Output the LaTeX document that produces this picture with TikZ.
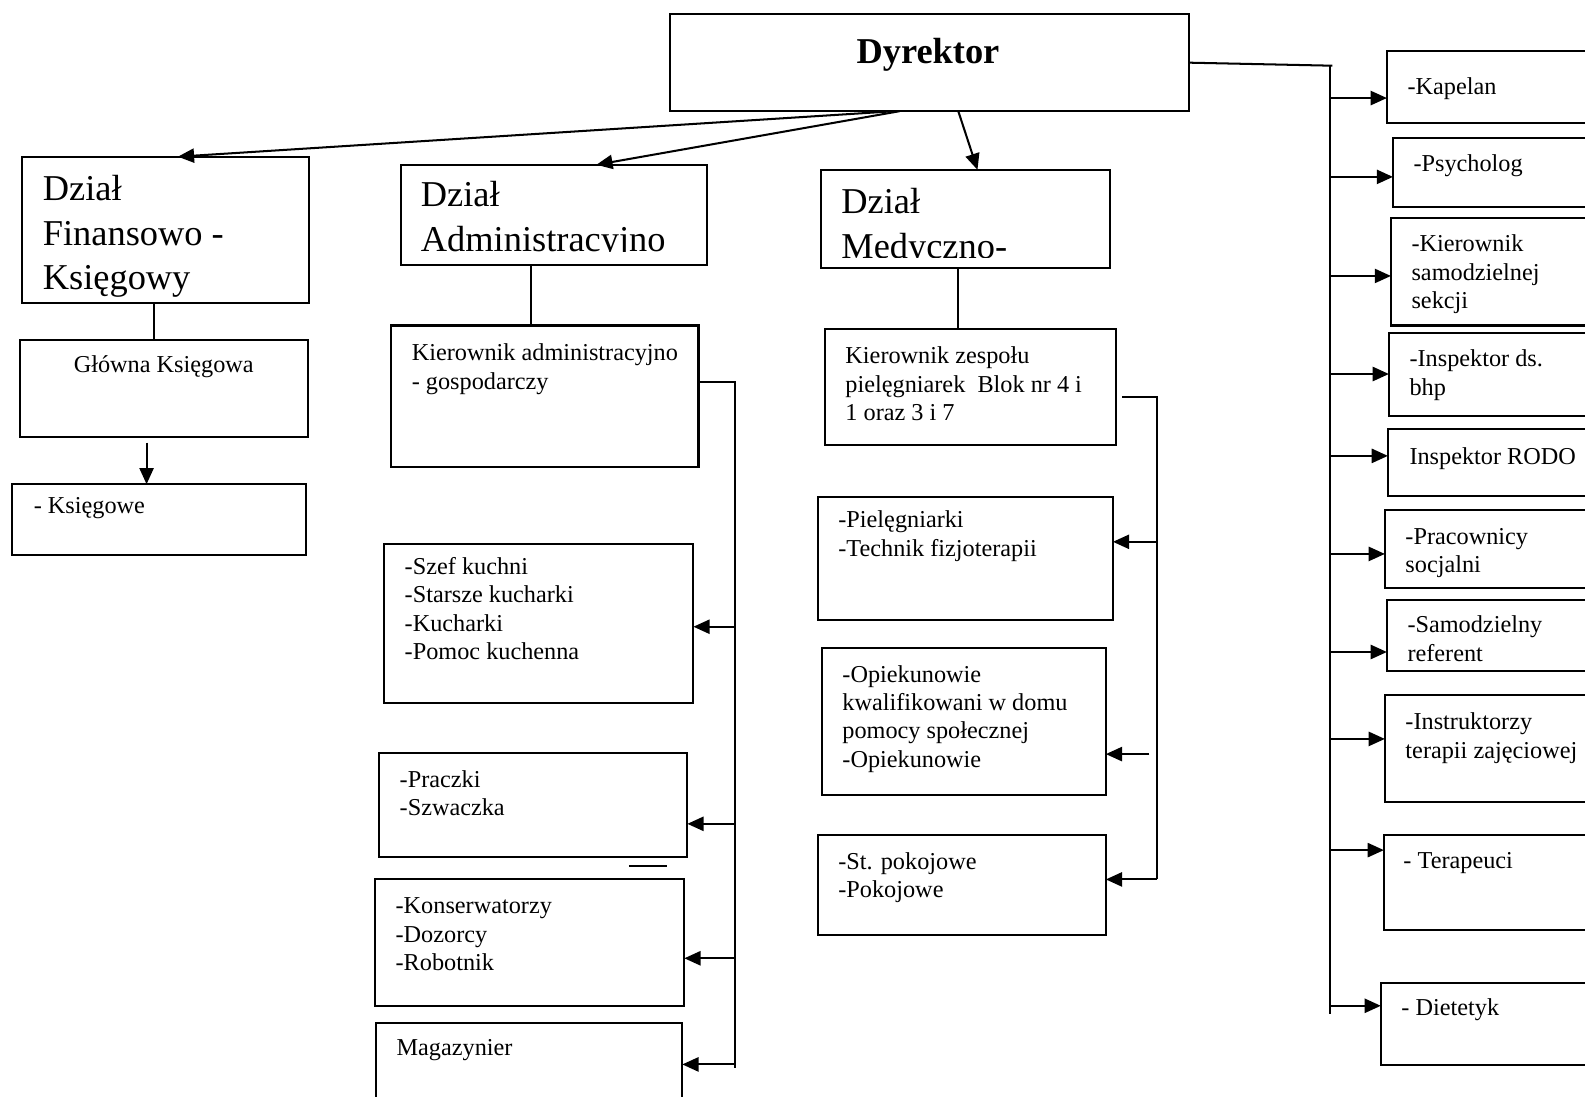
\documentclass[tikz,border=0pt]{standalone}
\usepackage{fontspec}
\setmainfont{Liberation Serif}
\usetikzlibrary{arrows.meta,calc}
\newcommand{\mkbox}[5]{\node[box, minimum width={(#4-#2)*0.5pt}, minimum height={(#5-#3)*0.5pt}] (#1) at (#2,#3) {};}
\begin{document}
\begin{tikzpicture}[x=0.5pt,y=-0.5pt,
 box/.style={draw, line width=1pt, inner sep=0pt, outer sep=0pt, anchor=north west},
 txt/.style={anchor=north west, inner sep=0pt, align=left, font=\fontsize{12}{14}\selectfont, yshift=-1pt},
 head/.style={anchor=north west, inner sep=0pt, align=left, font=\fontsize{18}{22}\selectfont, yshift=-1.5pt},
 ln/.style={line width=1pt},
 arr/.style={line width=1pt, -{Triangle[length=8pt,width=7pt]}},
]
\clip (0,0) rectangle (1568,1085);
\fill[white] (0,0) rectangle (1568,1085);
% boxes
\mkbox{dyr}{663}{14}{1176}{110}
\mkbox{fin}{22}{155}{306}{300}
\mkbox{glow}{20}{336}{305}{432}
\mkbox{ksg}{12}{479}{303}{549}
\mkbox{adm}{397}{163}{699}{262}
\mkbox{kadm}{387}{322}{691}{462}
\mkbox{szef}{380}{538}{686}{695}
\mkbox{pracz}{375}{745}{680}{848}
\mkbox{kons}{371}{870}{677}{995}
\mkbox{mag}{372}{1012}{675}{1100}
\mkbox{med}{812}{168}{1098}{265}
\mkbox{kzesp}{816}{325}{1104}{440}
\mkbox{piel}{809}{492}{1101}{613}
\mkbox{opiek}{813}{641}{1094}{786}
\mkbox{pokoj}{809}{826}{1094}{925}
\mkbox{kap}{1372}{50}{1620}{122}
\mkbox{psy}{1378}{137}{1620}{205}
\mkbox{ksek}{1376}{216}{1620}{322}
\mkbox{bhp}{1374}{329}{1620}{412}
\mkbox{rodo}{1373}{424}{1620}{491}
\mkbox{socj}{1370}{505}{1620}{582}
\mkbox{ref}{1372}{594}{1620}{664}
\mkbox{instr}{1370}{688}{1620}{793}
\mkbox{ter}{1369}{826}{1620}{920}
\mkbox{diet}{1366}{972}{1620}{1054}
% texts
\node[font=\fontsize{18}{22}\selectfont\bfseries, inner sep=0pt] (t-dyr) at (918,54) {Dyrektor};
\node[head] (t-fin) at (42,170) {Dział\\Finansowo -\\Księgowy};
\node[txt, anchor=north] (t-glow) at (162,349) {Główna Księgowa};
\node[txt] (t-ksg) at (33,490) {- Księgowe};
\begin{scope}
\clip (397,163) rectangle (699,249);
\node[head] (t-adm) at (416,176) {Dział\\Administracyjno};
\end{scope}
\node[txt] (t-kadm) at (407,338) {Kierownik administracyjno\\- gospodarczy};
\node[txt] (t-szef) at (400,549) {-Szef kuchni\\-Starsze kucharki\\-Kucharki\\-Pomoc kuchenna};
\node[txt] (t-pracz) at (395,760) {-Praczki\\-Szwaczka};
\node[txt] (t-kons) at (391,886) {-Konserwatorzy\\-Dozorcy\\-Robotnik};
\node[txt] (t-mag) at (392,1026) {Magazynier};
\begin{scope}
\clip (812,168) rectangle (1098,255);
\node[head] (t-med) at (832,183) {Dział\\Medyczno-};
\end{scope}
\node[txt] (t-kzesp) at (836,341) {Kierownik zespołu\\pielęgniarek\ \ Blok nr 4 i\\1 oraz 3 i 7};
\node[txt] (t-piel) at (829,503) {-Pielęgniarki\\-Technik fizjoterapii};
\node[txt] (t-opiek) at (833,656) {-Opiekunowie\\kwalifikowani w domu\\pomocy społecznej\\-Opiekunowie};
\node[txt] (t-pokoj) at (829,841) {-St. pokojowe\\-Pokojowe};
\node[txt] (t-kap) at (1392,74) {-Kapelan};
\node[txt] (t-psy) at (1398,151) {-Psycholog};
\node[txt] (t-ksek) at (1396,230) {-Kierownik\\samodzielnej\\sekcji};
\node[txt] (t-bhp) at (1394,344) {-Inspektor ds.\\bhp};
\node[txt] (t-rodo) at (1394,440) {Inspektor RODO};
\node[txt] (t-socj) at (1390,520) {-Pracownicy\\socjalni};
\node[txt] (t-ref) at (1392,607) {-Samodzielny\\referent};
\node[txt] (t-instr) at (1390,703) {-Instruktorzy\\terapii zajęciowej};
\node[txt] (t-ter) at (1388,841) {- Terapeuci};
\node[txt] (t-diet) at (1386,986) {- Dietetyk};
% connectors from director
\draw[arr] (dyr.south -| 885,0) -- (176,0 |- fin.north);
\draw[arr] (dyr.south -| 890,0) -- (590,0 |- adm.north);
\draw[arr] (dyr.south -| 948,0) -- (967,0 |- med.north);
% finance
\draw[ln] (fin.south -| 152,0) -- (glow.north -| 152,0);
\draw[arr] ($(glow.south -| 145,0)+(0,6)$) -- (ksg.north -| 145,0);
% admin
\draw[ln] (adm.south -| 525,0) -- (kadm.north -| 525,0);
\coordinate (abus) at (727,378);
\coordinate (abusend) at (727,1057);
\draw[ln] (kadm.east |- abus) -- (abus) -- (abusend);
\draw[arr] (abus |- 0,620) -- (szef.east |- 0,620);
\draw[arr] (abus |- 0,815) -- (pracz.east |- 0,815);
\draw[arr] (abus |- 0,948) -- (kons.east |- 0,948);
\draw[arr] (abus |- 0,1053) -- (mag.east |- 0,1053);
\draw[ln] (622,857) -- (660,857);
% medical
\draw[ln] (med.south -| 948,0) -- (kzesp.north -| 948,0);
\coordinate (mbus) at (1145,393);
\coordinate (mbusend) at (1145,870);
\draw[ln] ($(kzesp.east |- mbus)+(6,0)$) -- (mbus) -- (mbusend);
\draw[arr] (mbus |- 0,536) -- (piel.east |- 0,536);
\draw[arr] ($(mbus |- 0,746)+(-8,0)$) -- (opiek.east |- 0,746);
\draw[arr] (mbus |- 0,870) -- (pokoj.east |- 0,870);
% right column
\coordinate (rbus) at (1316,65);
\coordinate (rbusend) at (1316,1003);
\draw[ln] (dyr.east |- 0,62) -- ($(rbus)+(2,0)$);
\draw[ln] (rbus) -- (rbusend);
\draw[arr] (rbus |- 0,97) -- (kap.west |- 0,97);
\draw[arr] (rbus |- 0,175) -- (psy.west |- 0,175);
\draw[arr] (rbus |- 0,273) -- (ksek.west |- 0,273);
\draw[arr] (rbus |- 0,370) -- (bhp.west |- 0,370);
\draw[arr] (rbus |- 0,451) -- (rodo.west |- 0,451);
\draw[arr] (rbus |- 0,548) -- (socj.west |- 0,548);
\draw[arr] (rbus |- 0,645) -- (ref.west |- 0,645);
\draw[arr] (rbus |- 0,731) -- (instr.west |- 0,731);
\draw[arr] (rbus |- 0,841) -- (ter.west |- 0,841);
\draw[arr] (rbus |- 0,995) -- (diet.west |- 0,995);
\end{tikzpicture}
\end{document}
